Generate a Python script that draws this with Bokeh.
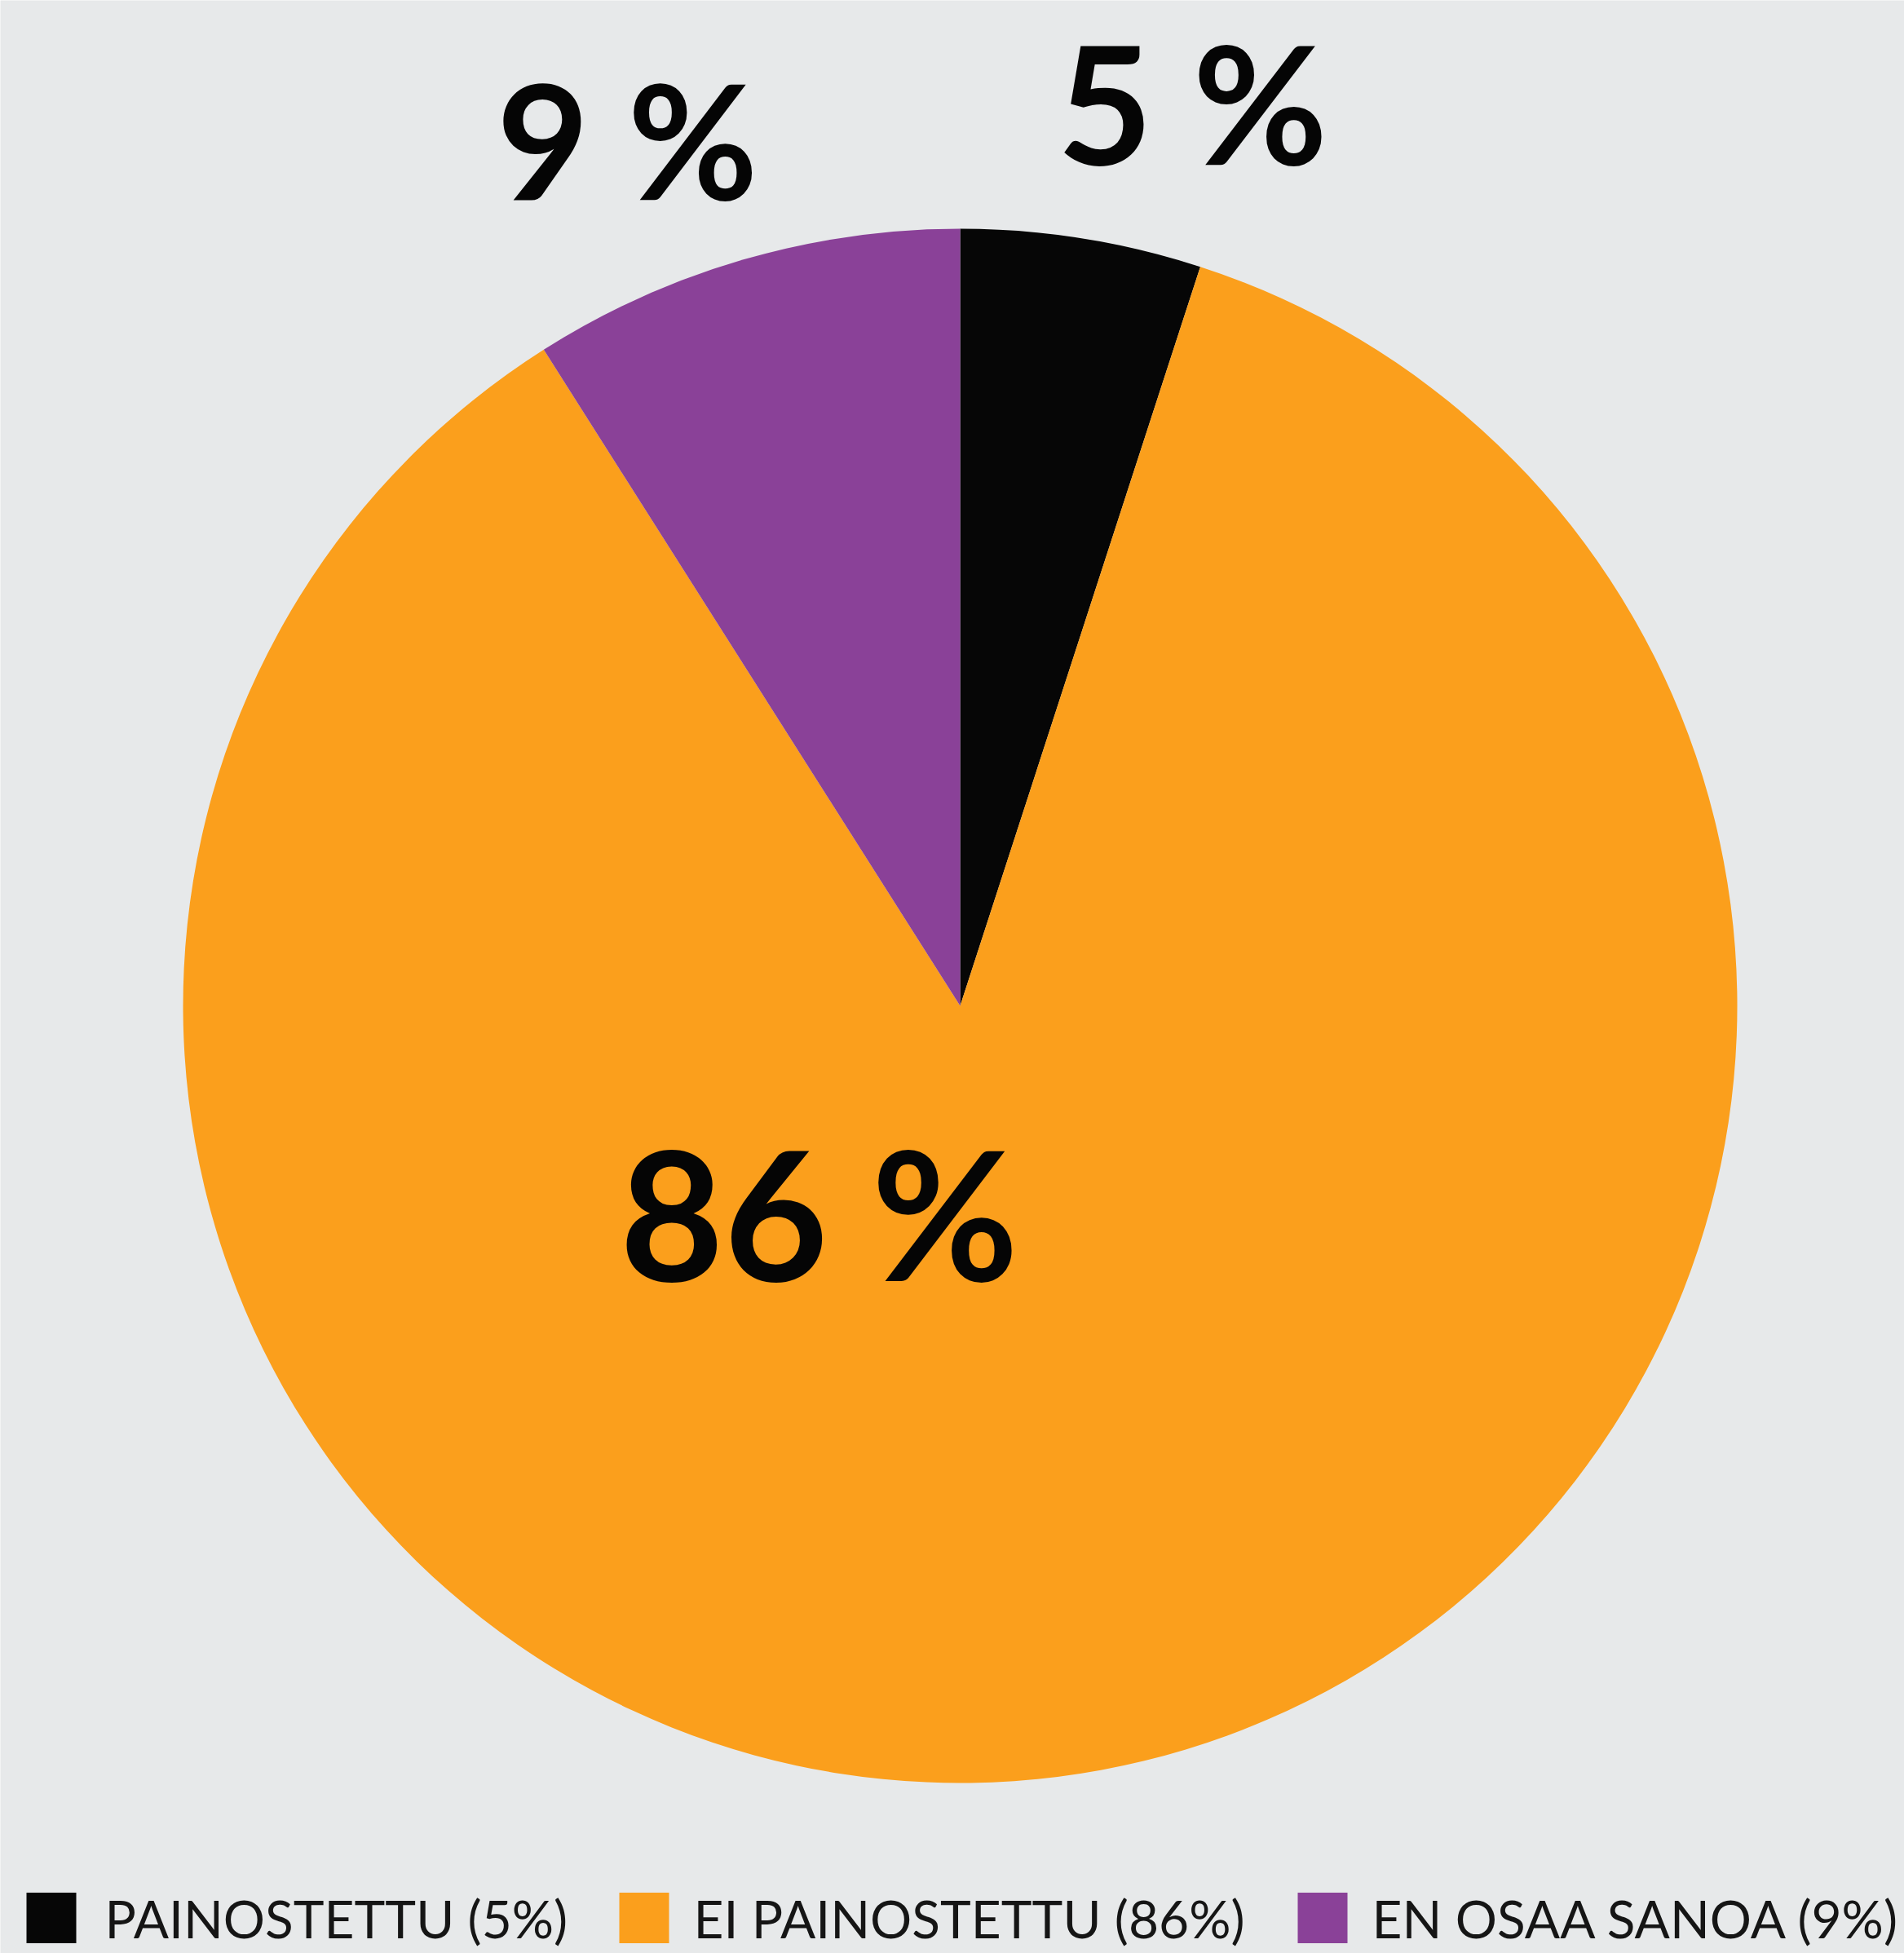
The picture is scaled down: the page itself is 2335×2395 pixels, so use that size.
import numpy as np
from bokeh.plotting import figure
from bokeh.models import Range1d, ColumnDataSource
from bokeh.core.properties import value
from bokeh.embed import file_html
from bokeh.resources import INLINE

categories = ["PAINOSTETTU", "EI PAINOSTETTU", "EN OSAA SANOA"]
shares = [5, 86, 9]
colors = ["#060606", "#FB9F1C", "#8A4198"]
slice_labels = ["5 %", "86 %", "9 %"]
legend_labels = ["PAINOSTETTU (5%)", "EI PAINOSTETTU (86%)", "EN OSAA SANOA (9%)"]

W, H = 2335, 2395
BG = "#e7e9ea"

p = figure(width=W, height=H, output_backend="svg", toolbar_location=None,
           x_range=Range1d(0, W), y_range=Range1d(0, H), min_border=0)
p.axis.visible = False
p.grid.visible = False
p.outline_line_color = None
p.background_fill_color = BG
p.border_fill_color = BG

def px(X):
    return X

def py(Y):
    return H - Y

cx, cy, R = px(1177), py(1233), 953

frac = np.array(shares, dtype=float) / sum(shares)
cum = np.concatenate([[0], np.cumsum(frac)])
start = np.pi / 2 - cum[:-1] * 2 * np.pi
end = np.pi / 2 - cum[1:] * 2 * np.pi

src = ColumnDataSource(dict(start=start, end=end, color=colors, cat=categories))
p.wedge(x=cx, y=cy, radius=R, start_angle="start", end_angle="end",
        direction="clock", fill_color="color", line_color=None, source=src)

# slice labels (baseline positions, corrected for renderer offset ~0.4*size)
lab_x = [1462, 1004, 769]
lab_base = [204, 1573, 247]
lab_size = [202, 220, 195]
for t, x, yb, s in zip(slice_labels, lab_x, lab_base, lab_size):
    p.text(x=[px(x)], y=[py(yb - 0.4 * s)], text=[t], text_font=value("Lato"),
           text_font_style="bold", text_font_size=f"{s}px", text_color="#050505",
           text_align="center", text_baseline="alphabetic")

# legend
sq_left = [32, 759, 1591]
txt_left = [128, 850, 1682]
sq = 61
lsize = 64
for i in range(3):
    p.rect(x=[px(sq_left[i]) + sq / 2], y=[py(2321) - sq / 2], width=sq, height=sq + 1,
           fill_color=colors[i], line_color=None)
    p.text(x=[px(txt_left[i])], y=[py(2378 - 0.4 * lsize)], text=[legend_labels[i]],
           text_font=value("Lato"), text_font_size=f"{lsize}px",
           text_color="#151515", text_align="left", text_baseline="alphabetic")

open("out.html", "w").write(file_html(p, INLINE))
